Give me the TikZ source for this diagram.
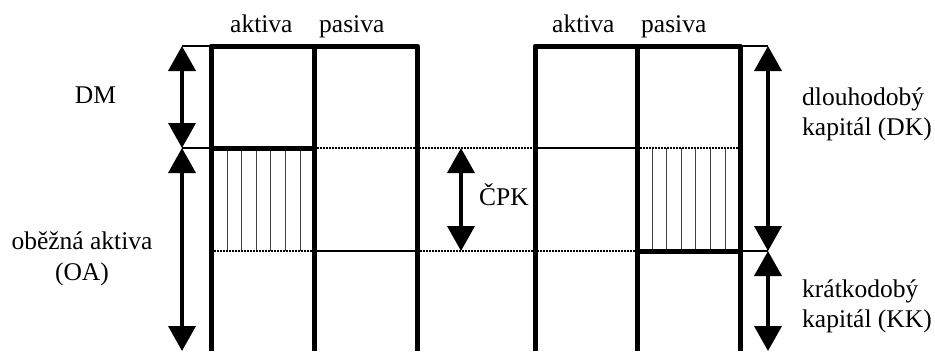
\documentclass[tikz,border=0pt]{standalone}
\usepackage{fontspec}
\setmainfont{Liberation Serif}
\usetikzlibrary{arrows.meta}

\begin{document}
\begin{tikzpicture}[x=1pt,y=-1pt,
  frame/.style={line width=5pt, line join=round},
  thinrule/.style={line width=1.4pt},
  dotrule/.style={line width=2pt, dash pattern=on 1.8pt off 1.2pt},
  hatch/.style={line width=1pt, black!75},
  span/.style={line width=3.8pt,
    {Triangle[width=27pt,length=25pt]}-{Triangle[width=27pt,length=25pt]}},
  lbl/.style={inner sep=0pt, font=\fontsize{25.5}{30.5}\selectfont},
]
\useasboundingbox (0,0) rectangle (935,351);

% column edges of the two balance sheets and the row levels
\def\La{211}\def\Lb{314}\def\Lc{417}
\def\Ra{535}\def\Rb{637}\def\Rc{740}
\def\yT{46}\def\yM{148}\def\yL{251}\def\yB{351}

% arrow end points
\coordinate (dmT) at (182,\yT);
\coordinate (dmB) at (182,\yM);
\coordinate (oaB) at (182,\yB);
\coordinate (cpkT) at (461,\yM);
\coordinate (cpkB) at (461,\yL);
\coordinate (dkT) at (768,\yT);
\coordinate (dkB) at (768,\yL);
\coordinate (kkB) at (768,\yB);

% hatched working-capital parts
\foreach \k in {0,...,5} {
  \draw[hatch] (227+14.6*\k,\yM) -- (227+14.6*\k,\yL);
  \draw[hatch] (652+14.6*\k,\yM) -- (652+14.6*\k,\yL);
}

% dotted level lines
\draw[dotrule] (\Lb,\yM) -- (\Ra,\yM);
\draw[dotrule] (\Rb,\yM) -- (\Rc,\yM);
\draw[dotrule] (\La,\yL) -- (\Lb,\yL);
\draw[dotrule] (\Lc,\yL) -- (\Rb,\yL);

% thin level lines and leaders
\draw[thinrule] (dmT) -- (\La,\yT);
\draw[thinrule] (dmB) -- (\La,\yM);
\draw[thinrule] (\Ra,\yM) -- (\Rb,\yM);
\draw[thinrule] (\Lb,\yL) -- (\Lc,\yL);
\draw[thinrule] (\Rc,\yT) -- (dkT);
\draw[thinrule] (\Rc,\yL) -- (dkB);

% balance sheet frames
\draw[frame] (\La,\yB) -- (\La,\yT) -- (\Lc,\yT) -- (\Lc,\yB);
\draw[frame] (\Lb,\yT) -- (\Lb,\yB);
\draw[frame] (\La,\yM) -- (\Lb,\yM);
\draw[frame] (\Ra,\yB) -- (\Ra,\yT) -- (\Rc,\yT) -- (\Rc,\yB);
\draw[frame] (\Rb,\yT) -- (\Rb,\yB);
\draw[frame] (\Rb,\yL) -- (\Rc,\yL);

% dimension arrows
\draw[span] (dmT) -- (dmB);
\draw[span] (dmB) -- (oaB);
\draw[span] (cpkT) -- (cpkB);
\draw[span] (dkT) -- (dkB);
\draw[span] (dkB) -- (kkB);

% labels (two-line nodes are anchored on the baseline of their last line)
\node[lbl, anchor=base west] (aktL) at (230,32) {aktiva};
\node[lbl, anchor=base west] (pasL) at (319,32) {pasiva};
\node[lbl, anchor=base west] (aktR) at (552,32) {aktiva};
\node[lbl, anchor=base west] (pasR) at (641,32) {pasiva};
\node[lbl, anchor=base] (dm) at (95.5,103) {DM};
\node[lbl, anchor=base west] (cpk) at (479,205) {ČPK};
\node[lbl, align=center, anchor=base] (oa) at (82,280) {oběžná aktiva\\(OA)};
\node[lbl, align=left, anchor=base west] (dk) at (802,135.5) {dlouhodobý\\kapitál (DK)};
\node[lbl, align=left, anchor=base west] (kk) at (802,327.5) {krátkodobý\\kapitál (KK)};
\end{tikzpicture}
\end{document}
